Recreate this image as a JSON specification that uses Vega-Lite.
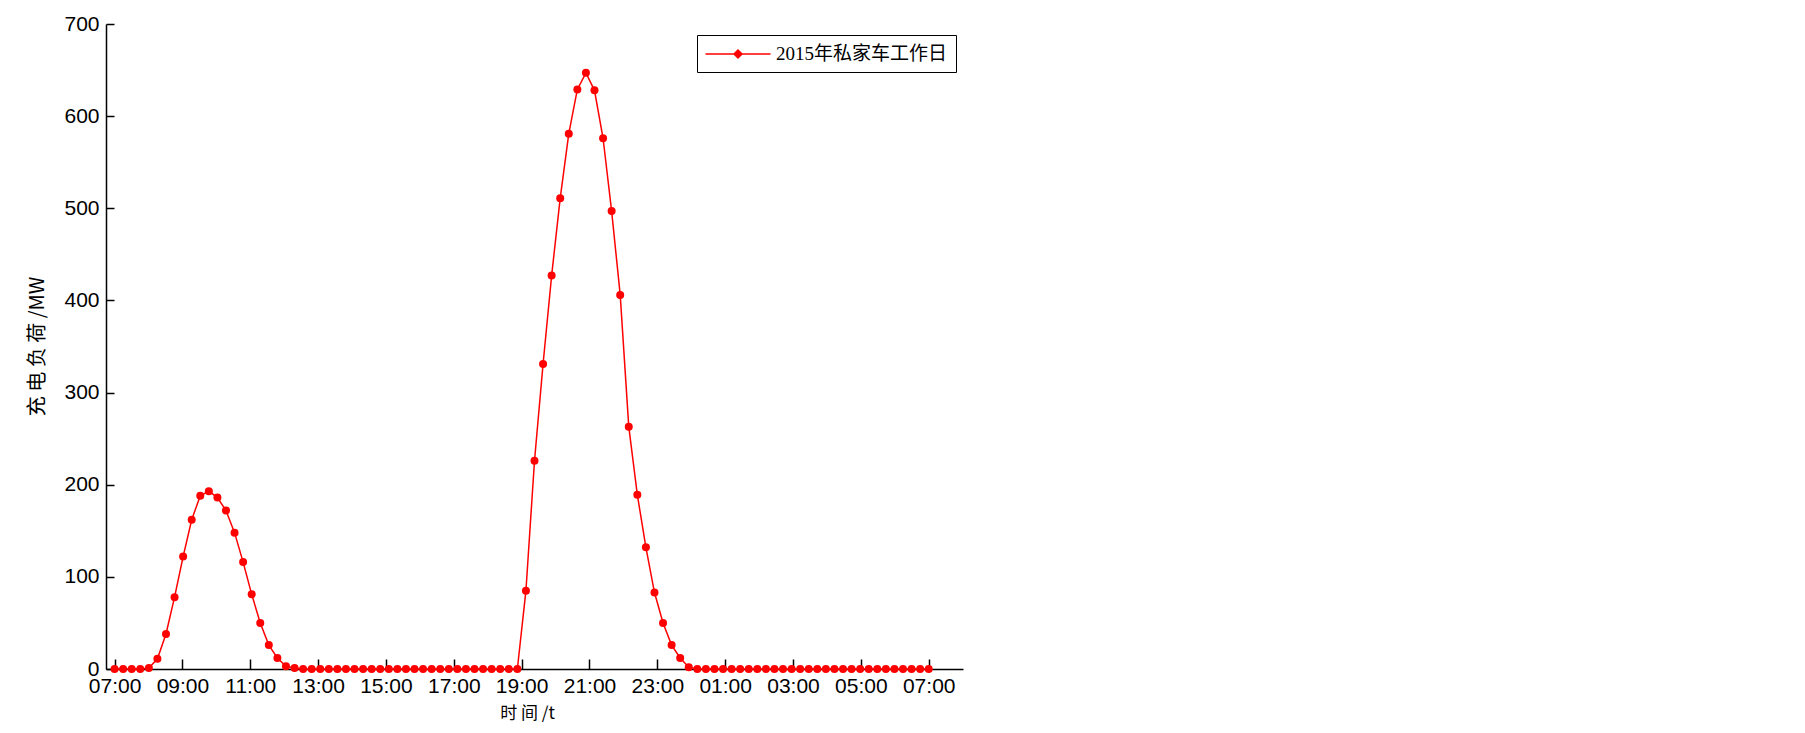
{
  "$schema": "https://vega.github.io/schema/vega-lite/v6.json",
  "autosize": "none",
  "width": 857,
  "height": 645,
  "padding": {"left": 106, "top": 24, "right": 842, "bottom": 64},
  "background": "white",
  "config": {
    "view": {"stroke": null},
    "axis": {
      "grid": false,
      "domainColor": "#000000",
      "domainWidth": 1.5,
      "tickColor": "#000000",
      "tickWidth": 1.5,
      "labelFont": "Liberation Sans",
      "labelFontSize": 21,
      "labelColor": "#000000",
      "titleColor": "#000000",
      "titleFontWeight": "normal"
    }
  },
  "data": {
    "values": [
      {"i": 1, "load": 0}, {"i": 2, "load": 0}, {"i": 3, "load": 0}, {"i": 4, "load": 0},
      {"i": 5, "load": 1}, {"i": 6, "load": 11}, {"i": 7, "load": 38}, {"i": 8, "load": 78},
      {"i": 9, "load": 122}, {"i": 10, "load": 162}, {"i": 11, "load": 188}, {"i": 12, "load": 193},
      {"i": 13, "load": 186}, {"i": 14, "load": 172}, {"i": 15, "load": 148}, {"i": 16, "load": 116},
      {"i": 17, "load": 81}, {"i": 18, "load": 50}, {"i": 19, "load": 26}, {"i": 20, "load": 12},
      {"i": 21, "load": 3}, {"i": 22, "load": 1}, {"i": 23, "load": 0}, {"i": 24, "load": 0},
      {"i": 25, "load": 0}, {"i": 26, "load": 0}, {"i": 27, "load": 0}, {"i": 28, "load": 0},
      {"i": 29, "load": 0}, {"i": 30, "load": 0}, {"i": 31, "load": 0}, {"i": 32, "load": 0},
      {"i": 33, "load": 0}, {"i": 34, "load": 0}, {"i": 35, "load": 0}, {"i": 36, "load": 0},
      {"i": 37, "load": 0}, {"i": 38, "load": 0}, {"i": 39, "load": 0}, {"i": 40, "load": 0},
      {"i": 41, "load": 0}, {"i": 42, "load": 0}, {"i": 43, "load": 0}, {"i": 44, "load": 0},
      {"i": 45, "load": 0}, {"i": 46, "load": 0}, {"i": 47, "load": 0}, {"i": 48, "load": 0},
      {"i": 49, "load": 85}, {"i": 50, "load": 226}, {"i": 51, "load": 331}, {"i": 52, "load": 427},
      {"i": 53, "load": 511}, {"i": 54, "load": 581}, {"i": 55, "load": 629}, {"i": 56, "load": 647},
      {"i": 57, "load": 628}, {"i": 58, "load": 576}, {"i": 59, "load": 497}, {"i": 60, "load": 406},
      {"i": 61, "load": 263}, {"i": 62, "load": 189}, {"i": 63, "load": 132}, {"i": 64, "load": 83},
      {"i": 65, "load": 50}, {"i": 66, "load": 26}, {"i": 67, "load": 12}, {"i": 68, "load": 2},
      {"i": 69, "load": 0}, {"i": 70, "load": 0}, {"i": 71, "load": 0}, {"i": 72, "load": 0},
      {"i": 73, "load": 0}, {"i": 74, "load": 0}, {"i": 75, "load": 0}, {"i": 76, "load": 0},
      {"i": 77, "load": 0}, {"i": 78, "load": 0}, {"i": 79, "load": 0}, {"i": 80, "load": 0},
      {"i": 81, "load": 0}, {"i": 82, "load": 0}, {"i": 83, "load": 0}, {"i": 84, "load": 0},
      {"i": 85, "load": 0}, {"i": 86, "load": 0}, {"i": 87, "load": 0}, {"i": 88, "load": 0},
      {"i": 89, "load": 0}, {"i": 90, "load": 0}, {"i": 91, "load": 0}, {"i": 92, "load": 0},
      {"i": 93, "load": 0}, {"i": 94, "load": 0}, {"i": 95, "load": 0}, {"i": 96, "load": 0}
    ]
  },
  "mark": {
    "type": "line",
    "strokeWidth": 1.5,
    "point": {"filled": true, "size": 64, "shape": "circle", "color": "#ff0000"}
  },
  "encoding": {
    "x": {
      "field": "i",
      "type": "quantitative",
      "scale": {"domain": [0, 100], "nice": false, "zero": false},
      "axis": {
        "values": [1, 8.9167, 16.8333, 24.75, 32.6667, 40.5833, 48.5, 56.4167, 64.3333, 72.25, 80.1667, 88.0833, 96],
        "labelExpr": "((7 + 2 * round((datum.value - 1) * 12 / 95)) % 24 < 10 ? '0' : '') + ((7 + 2 * round((datum.value - 1) * 12 / 95)) % 24) + ':00'",
        "tickSize": -10,
        "labelPadding": 16,
        "labelFlush": false,
        "labelOverlap": false,
        "title": "时 间 /t",
        "titleFont": "Noto Sans CJK SC",
        "titleFontSize": 17,
        "titleX": 421,
        "titleY": 44,
        "titleBaseline": "middle",
        "titleAlign": "center"
      }
    },
    "y": {
      "field": "load",
      "type": "quantitative",
      "scale": {"domain": [0, 700], "nice": false},
      "axis": {
        "values": [0, 100, 200, 300, 400, 500, 600, 700],
        "tickSize": -8,
        "labelPadding": 15,
        "title": "充 电 负 荷 /MW",
        "titleFont": "Noto Sans CJK SC",
        "titleFontSize": 20,
        "titleAngle": -90,
        "titleX": -69,
        "titleY": 322,
        "titleBaseline": "middle",
        "titleAlign": "center"
      }
    },
    "color": {
      "datum": "2015年私家车工作日",
      "type": "nominal",
      "scale": {"range": ["#ff0000"]},
      "legend": {
        "title": null,
        "orient": "none",
        "legendX": 591,
        "legendY": 11,
        "padding": 8,
        "strokeColor": "#000000",
        "fillColor": "#ffffff",
        "symbolType": "M-3.25,0H3.25M-0.4,0L0,-0.4L0.4,0L0,0.4Z",
        "symbolSize": 400,
        "symbolOffset": 22,
        "symbolStrokeWidth": 1.5,
        "symbolFillColor": "#ff0000",
        "symbolStrokeColor": "#ff0000",
        "symbolOpacity": 1,
        "labelFont": "Liberation Serif, Noto Sans CJK SC",
        "labelFontSize": 19,
        "labelColor": "#000000",
        "labelOffset": 27,
        "labelLimit": 400
      }
    }
  }
}
